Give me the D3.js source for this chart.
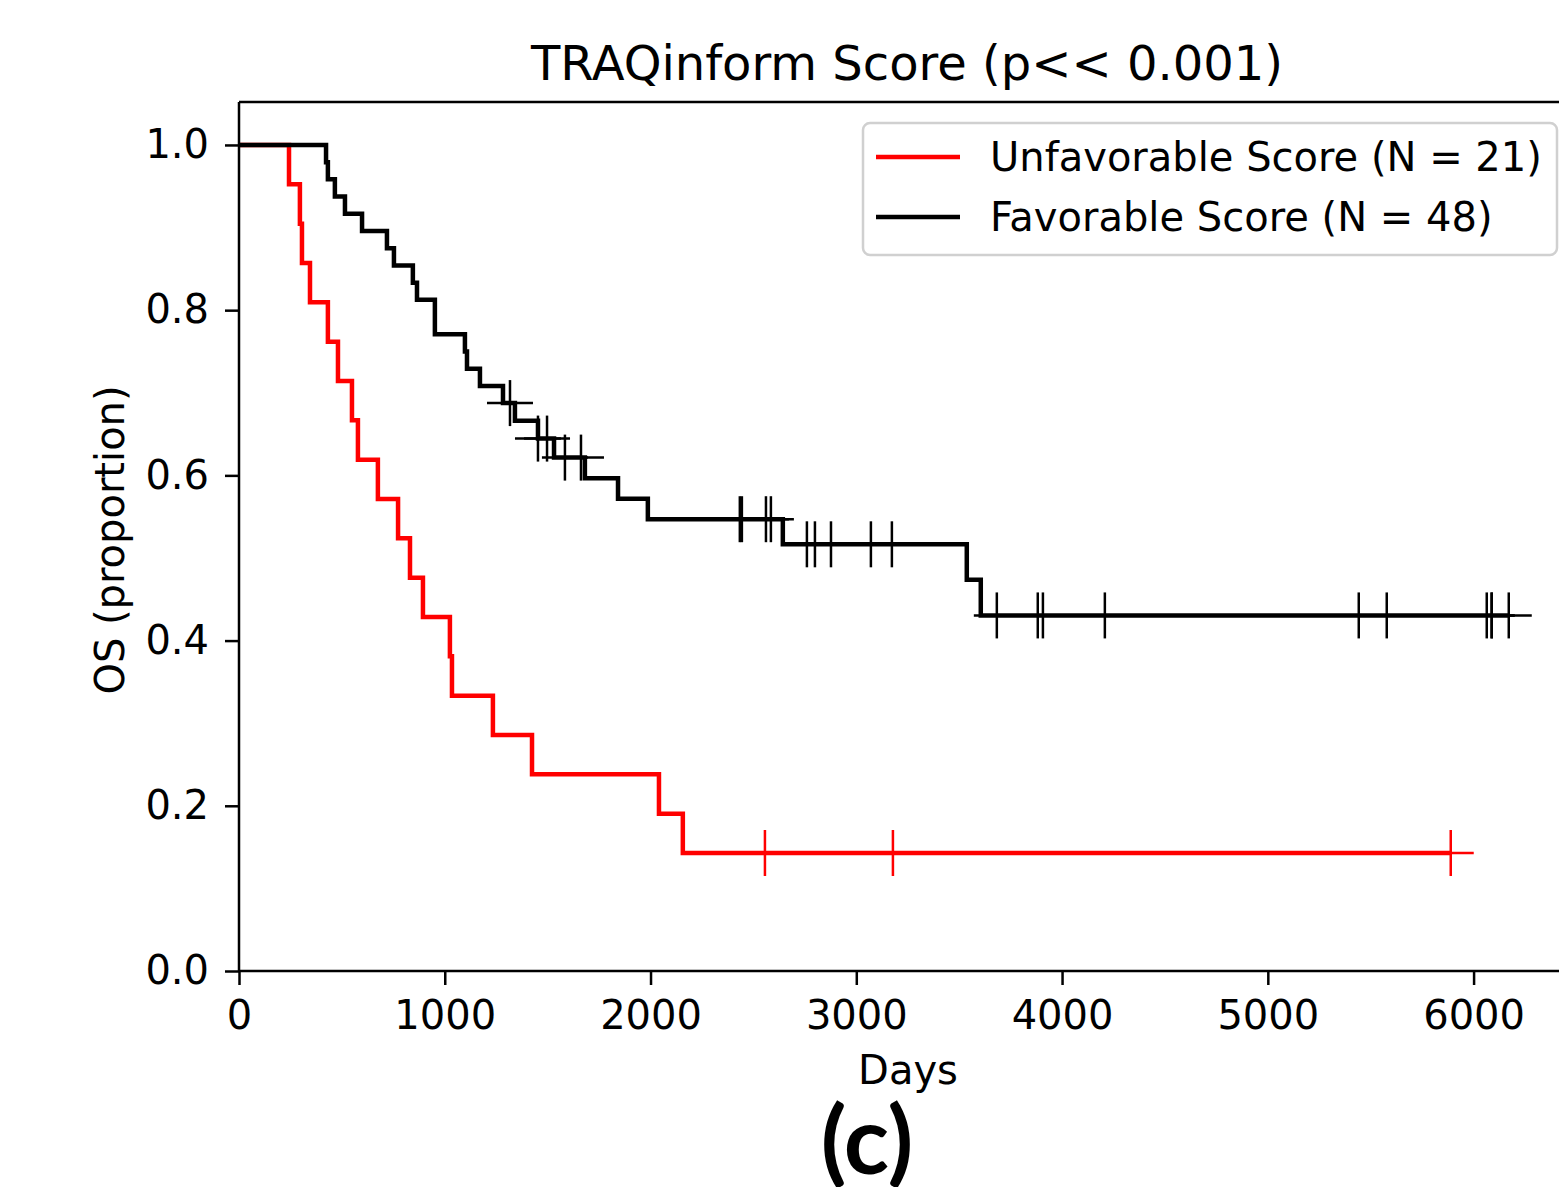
<!DOCTYPE html>
<html>
  <head>
    <meta charset="utf-8">
    <title>TRAQinform Score KM</title>
    <script src="https://d3js.org/d3.v7.min.js"></script>
    <style>
      body { margin: 0; background: #fff; }
      text { font-family: "DejaVu Sans", sans-serif; fill: #000; }
    </style>
  </head>
  <body>
    <svg width="1559" height="1187"></svg>
    <script>
    // data (days)
    var unfavEvents = [243, 296, 306, 345, 432, 481, 549, 578, 675, 773, 831, 894, 1025, 1035, 1234, 1424, 2041, 2157];
    var unfavCensored = [2556, 3178, 5889];
    var favEvents = [423, 432, 466, 515, 598, 719, 753, 845, 865, 952, 952, 1098, 1108, 1171, 1283, 1341, 1453, 1531, 1681, 1842, 1987, 2643, 3537, 3605];
    var favCensored = [1317, 1453, 1497, 1584, 1662, 2434, 2444, 2561, 2585, 2760, 2799, 2877, 3071, 3173, 3683, 3882, 3907, 4208, 5442, 5578, 6064, 6088, 6088, 6171];
    var groupNames = ["Unfavorable Score (N = 21)", "Favorable Score (N = 48)"];
    var groupColors = ["#ff0000", "#000000"];
    var xTicks = [0, 1000, 2000, 3000, 4000, 5000, 6000];
    var yTicks = [0, 0.2, 0.4, 0.6, 0.8, 1.0];

    var svg = d3.select("svg");
    var x = d3.scaleLinear().domain([0, 6420]).range([239, 1560]);
    var y = d3.scaleLinear().domain([0, 1.052]).range([971, 102]);

    // kaplan-meier from durations
    function km(events, censored) {
      var all = events.map(function(t){ return {t:t, e:1}; })
        .concat(censored.map(function(t){ return {t:t, e:0}; }));
      all.sort(function(a,b){ return a.t - b.t; });
      var times = Array.from(new Set(all.map(function(d){ return d.t; })));
      var n = all.length, s = 1;
      var steps = [{t:0, s:1}], marks = [];
      times.forEach(function(t){
        var here = all.filter(function(d){ return d.t === t; });
        var d = here.filter(function(d){ return d.e; }).length;
        if (d > 0) { s = s * (n - d) / n; steps.push({t:t, s:s}); }
        here.forEach(function(h){ if (!h.e) marks.push({t:t, s:s}); });
        n -= here.length;
      });
      steps.push({t: times[times.length-1], s: s});
      return {steps: steps, marks: marks};
    }

    var groups = [km(unfavEvents, unfavCensored), km(favEvents, favCensored)];

    var line = d3.line()
      .x(function(d){ return x(d.t); })
      .y(function(d){ return y(d.s); })
      .curve(d3.curveStepAfter);

    var plot = svg.append("g");
    groups.forEach(function(g, i){
      plot.append("path")
        .datum(g.steps)
        .attr("fill", "none")
        .attr("stroke", groupColors[i])
        .attr("stroke-width", 4.5)
        .attr("d", line);
      var m = plot.append("g").selectAll("g")
        .data(g.marks).enter().append("g")
        .attr("transform", function(d){ return "translate(" + x(d.t) + "," + y(d.s) + ")"; });
      m.append("line").attr("x1", -23).attr("x2", 23)
        .attr("stroke", groupColors[i]).attr("stroke-width", 2.5);
      m.append("line").attr("y1", -23).attr("y2", 23)
        .attr("stroke", groupColors[i]).attr("stroke-width", 2.5);
    });

    // axes
    var xAxis = svg.append("g").attr("transform", "translate(0,971)")
      .call(d3.axisBottom(x).tickValues(xTicks).tickFormat(d3.format("d")).tickSize(14).tickPadding(16));
    var yAxis = svg.append("g").attr("transform", "translate(239,0)")
      .call(d3.axisLeft(y).tickValues(yTicks).tickFormat(d3.format(".1f")).tickSize(14).tickPadding(16));
    [xAxis, yAxis].forEach(function(a){
      a.selectAll("path").attr("stroke", "#000").attr("stroke-width", 2.5);
      a.selectAll("line").attr("stroke", "#000").attr("stroke-width", 2.5);
      a.selectAll("text").attr("font-size", 40).attr("font-family", "DejaVu Sans").attr("fill", "#000");
    });
    xAxis.select(".domain").attr("d", "M239,0H1560");
    yAxis.select(".domain").attr("d", "M0,102V971");
    svg.append("line").attr("x1", 239).attr("x2", 1560).attr("y1", 102).attr("y2", 102)
      .attr("stroke", "#000").attr("stroke-width", 2.5);

    // title and labels
    svg.append("text").attr("x", 907).attr("y", 80).attr("text-anchor", "middle")
      .attr("font-size", 48).text("TRAQinform Score (p<< 0.001)");
    svg.append("text").attr("x", 908).attr("y", 1084).attr("text-anchor", "middle")
      .attr("font-size", 40).text("Days");
    svg.append("text").attr("transform", "translate(124,540) rotate(-90)").attr("text-anchor", "middle")
      .attr("font-size", 40).text("OS (proportion)");
    svg.append("text").attr("x", 867).attr("y", 1174).attr("text-anchor", "middle")
      .attr("font-size", 94).attr("font-weight", "bold").style("font-family", "Lato, sans-serif")
      .text("(c)");

    // legend
    var lg = svg.append("g");
    lg.append("rect").attr("x", 863).attr("y", 123).attr("width", 694).attr("height", 132)
      .attr("rx", 7).attr("fill", "#fff").attr("fill-opacity", 0.8)
      .attr("stroke", "#d0d0d0").attr("stroke-width", 2.5);
    groupNames.forEach(function(name, i){
      var ly = 157 + i * 60;
      lg.append("line").attr("x1", 876).attr("x2", 960).attr("y1", ly).attr("y2", ly)
        .attr("stroke", groupColors[i]).attr("stroke-width", 4.5);
      lg.append("text").attr("x", 990).attr("y", ly + 14).attr("font-size", 40).text(name);
    });
    </script>
  </body>
</html>
